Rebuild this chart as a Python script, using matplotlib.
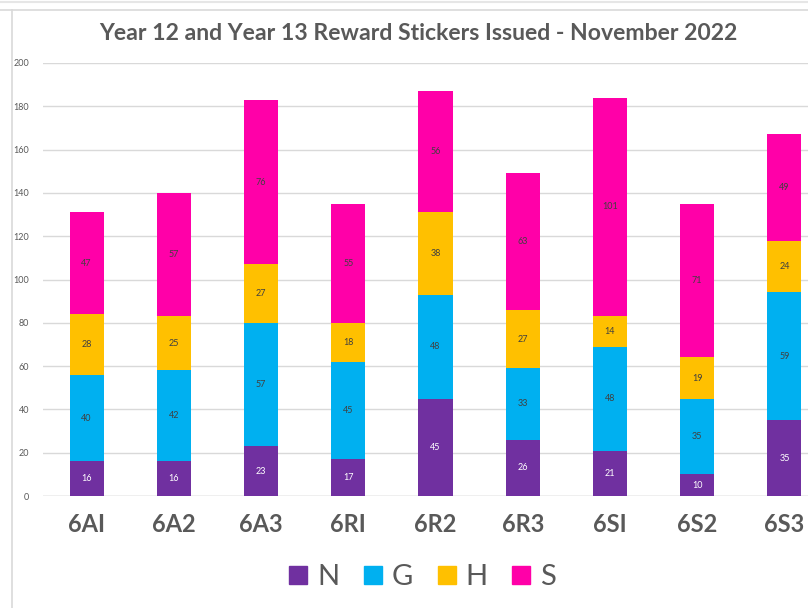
import numpy as np
import matplotlib.pyplot as plt
from matplotlib.lines import Line2D

plt.rcParams['font.family'] = ['Lato', 'DejaVu Sans']

# data
forms = ['6A1', '6A2', '6A3', '6R1', '6R2', '6R3', '6S1', '6S2', '6S3']
form_labels = ['6AI', '6A2', '6A3', '6RI', '6R2', '6R3', '6SI', '6S2', '6S3']
n_vals = [16, 16, 23, 17, 45, 26, 21, 10, 35]
g_vals = [40, 42, 57, 45, 48, 33, 48, 35, 59]
h_vals = [28, 25, 27, 18, 38, 27, 14, 19, 24]
s_vals = [47, 57, 76, 55, 56, 63, 101, 71, 49]
series_names = ['N', 'G', 'H', 'S']
colors = ['#7030A0', '#00B0F0', '#FFC000', '#FF00A8']
label_colors = ['white', '#404040', '#404040', '#404040']

fig = plt.figure(figsize=(8.08, 6.08), dpi=100)
W, H = 808, 608
ax = fig.add_axes([43 / W, (H - 496) / H, 785 / W, 433 / H])

x = np.arange(len(forms))
bottom = np.zeros(len(forms))
for vals, name, col, lc in zip([n_vals, g_vals, h_vals, s_vals], series_names, colors, label_colors):
    ax.bar(x, vals, width=0.39, bottom=bottom, color=col, label=name, zorder=3)
    for xi, b, v in zip(x, bottom, vals):
        ax.text(xi, b + v / 2, str(v), ha='center', va='center', fontsize=6.5, color=lc, zorder=4)
    bottom += np.array(vals)

ax.set_xlim(-0.5, len(forms) - 0.5)
ax.set_ylim(0, 200)
ax.set_yticks(range(0, 201, 20))
ax.yaxis.grid(True, color='#d9d9d9', linewidth=1, zorder=0)
ax.axhline(0, color='#d0d0d0', linewidth=1, zorder=2)
for sp in ax.spines.values():
    sp.set_visible(False)
ax.tick_params(axis='y', length=0, labelsize=6.5, labelcolor='#595959', pad=10)
ax.tick_params(axis='x', length=0, pad=12)
ax.set_xticks(x)
ax.set_xticklabels(form_labels, fontsize=17, fontweight='bold', color='#595959')

fig.text(418 / W, 1 - 33 / H, 'Year 12 and Year 13 Reward Stickers Issued - November 2022',
         ha='center', va='center', fontsize=16.6, fontweight='bold', color='#595959')

# legend
handles = [Line2D([0], [0], marker='s', linestyle='', markersize=13, markerfacecolor=c, markeredgecolor=c)
           for c in colors]
fig.legend(handles, series_names, loc='center', bbox_to_anchor=(422 / W, 1 - 577 / H), ncol=4,
           frameon=False, fontsize=21, labelcolor='#595959', handlelength=0.7, handletextpad=0.3,
           columnspacing=0.8)

# chart frame edges
fig.add_artist(Line2D([12 / W, 12 / W], [0, 1 - 10 / H], color='#d9d9d9', linewidth=1.2))
fig.add_artist(Line2D([0, 1], [1 - 10 / H, 1 - 10 / H], color='#d9d9d9', linewidth=1.2))
fig.add_artist(Line2D([0, 1], [1 - 2 / H, 1 - 2 / H], color='#e6e6e6', linewidth=1.5))

fig.savefig('out.png', dpi=100)
